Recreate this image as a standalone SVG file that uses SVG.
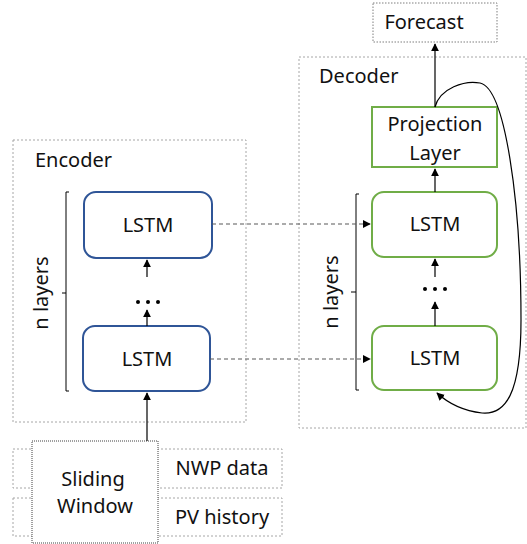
<svg xmlns="http://www.w3.org/2000/svg" width="527" height="544" viewBox="0 0 527 544">
<style>
text{font-family:"Noto Sans","Open Sans",sans-serif;font-size:20px;fill:#111;}
.c{text-anchor:middle;}
.frame{fill:none;stroke:#a6a6a6;stroke-width:1;stroke-dasharray:2 2;}
.enc{fill:#fff;stroke:#2f5597;stroke-width:2;}
.dec{fill:#fff;stroke:#70ad47;stroke-width:2;}
.ln{fill:none;stroke:#000;stroke-width:1.2;}
.dash{fill:none;stroke:#595959;stroke-width:1.2;stroke-dasharray:4 3;}
.br{fill:none;stroke:#000;stroke-width:1;}
</style>
<defs>
<marker id="ah" viewBox="0 0 10 10" refX="9" refY="5" markerWidth="8" markerHeight="8" markerUnits="userSpaceOnUse" orient="auto">
<path d="M0,0 L10,5 L0,10 z" fill="#000"/>
</marker>
</defs>
<g id="encoder-frame">
<rect class="frame" x="13" y="140" width="233" height="282"/>
<text x="35" y="167">Encoder</text>
</g>
<g id="decoder-frame">
<rect class="frame" x="299" y="57" width="227" height="371"/>
<text x="319" y="83">Decoder</text>
</g>
<g id="forecast">
<rect x="373" y="3" width="124" height="39" fill="#fff" stroke="#7f7f7f" stroke-width="1" stroke-dasharray="1.5 1.5"/>
<text class="c" x="424" y="29">Forecast</text>
</g>
<g id="enc-lstm-top">
<rect class="enc" x="84" y="192" width="128" height="66" rx="12"/>
<text class="c" x="148" y="232">LSTM</text>
</g>
<g id="enc-lstm-bottom">
<rect class="enc" x="83" y="326" width="127" height="65" rx="12"/>
<text class="c" x="147" y="366">LSTM</text>
</g>
<g id="enc-dots">
<circle cx="138" cy="302" r="2"/><circle cx="148" cy="302" r="2"/><circle cx="158" cy="302" r="2"/>
</g>
<g id="enc-bracket">
<path class="br" d="M69,192 H66 V391 H69 M66,293 H62"/>
<text class="c" transform="translate(48,293) rotate(-90)">n layers</text>
</g>
<g id="projection">
<rect class="dec" x="372" y="107" width="125" height="60"/>
<text class="c" x="435" y="131">Projection</text>
<text class="c" x="435" y="160">Layer</text>
</g>
<g id="dec-lstm-top">
<rect class="dec" x="372" y="192" width="125" height="65" rx="12"/>
<text class="c" x="435" y="231">LSTM</text>
</g>
<g id="dec-lstm-bottom">
<rect class="dec" x="372" y="326" width="125" height="64" rx="12"/>
<text class="c" x="435" y="365">LSTM</text>
</g>
<g id="dec-dots">
<circle cx="425" cy="289" r="2"/><circle cx="435" cy="289" r="2"/><circle cx="445" cy="289" r="2"/>
</g>
<g id="dec-bracket">
<path class="br" d="M359,194 H356 V390 H359 M356,292 H351"/>
<text class="c" transform="translate(338,292) rotate(-90)">n layers</text>
</g>
<g id="nwp">
<rect class="frame" x="13" y="449" width="269" height="39" stroke="#7f7f7f"/>
<text class="c" x="222" y="475">NWP data</text>
</g>
<g id="pv">
<rect class="frame" x="13" y="498" width="269" height="38" stroke="#7f7f7f"/>
<text class="c" x="222" y="524">PV history</text>
</g>
<g id="sliding-window">
<rect x="32" y="441" width="126" height="102" fill="#fff" stroke="#404040" stroke-width="1" stroke-dasharray="1 1"/>
<text class="c" x="93" y="486">Sliding</text>
<text class="c" x="95" y="513">Window</text>
</g>
<g id="connectors">
<path class="ln" d="M147,441 V393" marker-end="url(#ah)"/>
<path class="ln" d="M147,326 V310" marker-end="url(#ah)"/>
<path class="ln" d="M147,277 V260" marker-end="url(#ah)"/>
<path class="dash" d="M212,224 H370" marker-end="url(#ah)"/>
<path class="dash" d="M210,359 H370" marker-end="url(#ah)"/>
<path class="ln" d="M435,326 V302" marker-end="url(#ah)"/>
<path class="ln" d="M435,277 V259" marker-end="url(#ah)"/>
<path class="ln" d="M435,192 V169" marker-end="url(#ah)"/>
<path class="ln" d="M435,107 V44" marker-end="url(#ah)"/>
<path class="ln" d="M435,107 C440,88 465,80 480,83 C505,88 521,200 521,320 C521,395 505,415 482,413 C465,411 450,405 437,393" marker-end="url(#ah)"/>
</g>
</svg>
